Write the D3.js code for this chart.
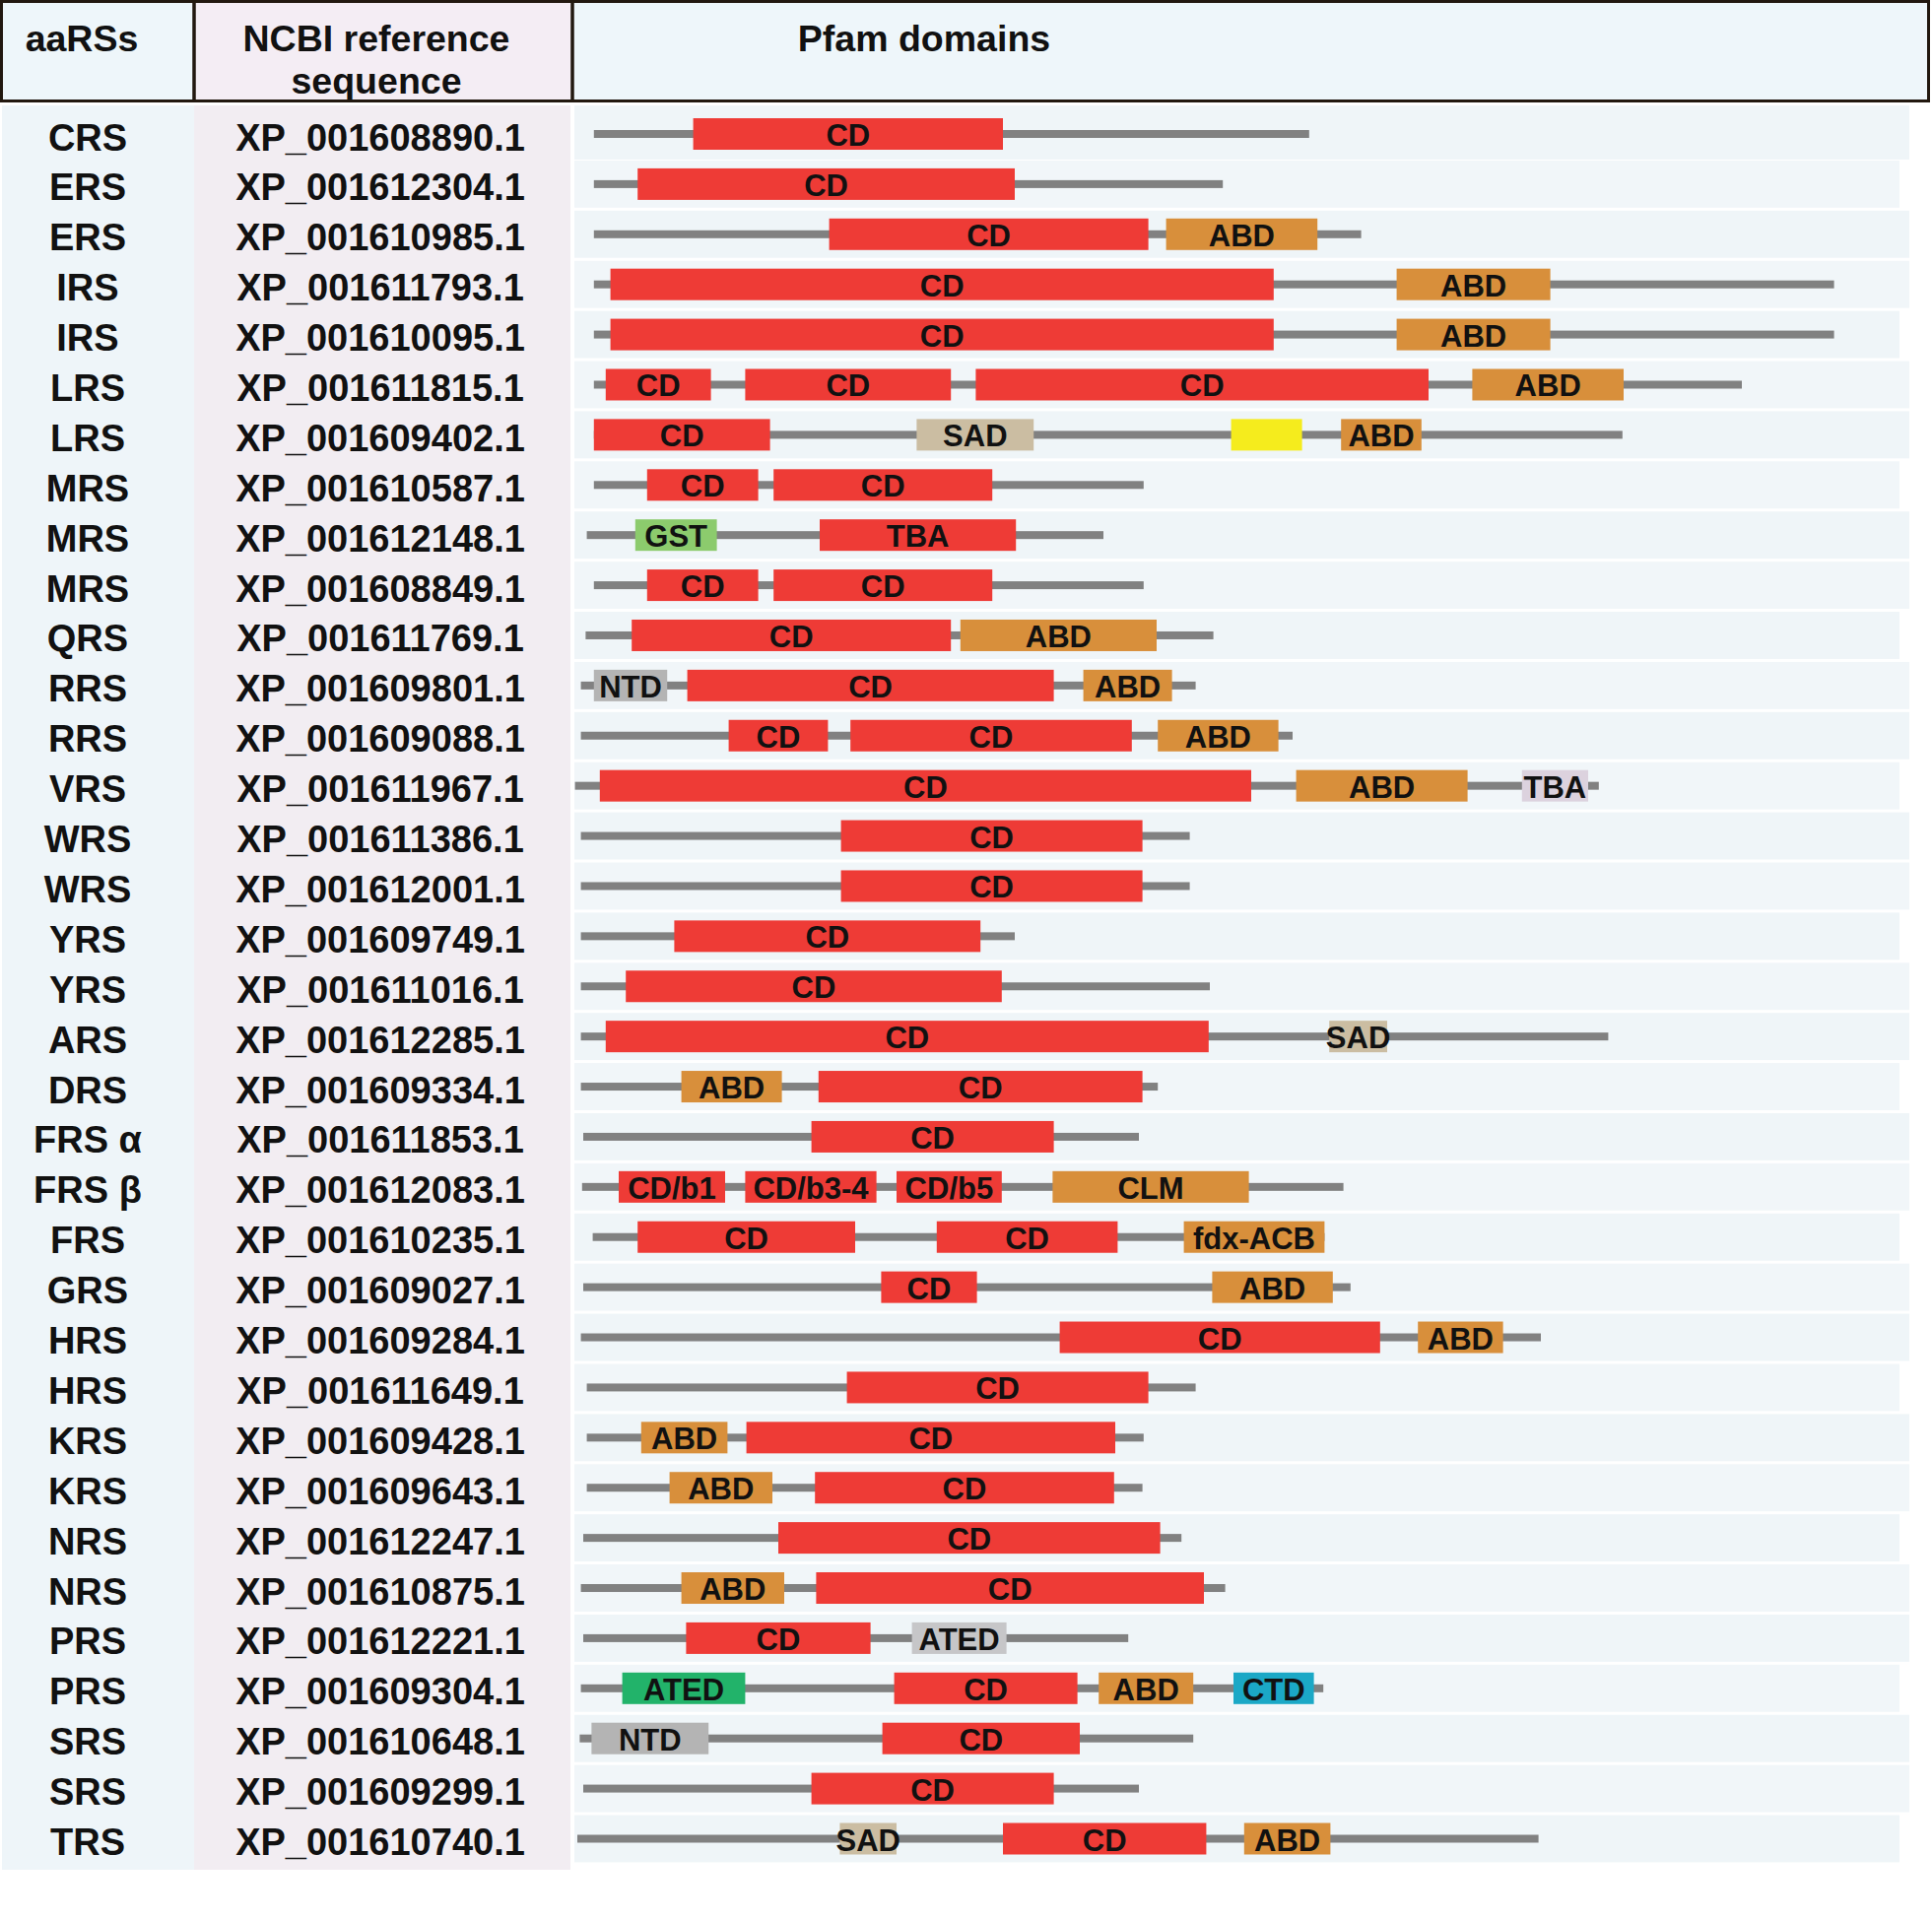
<!DOCTYPE html>
<html><head><meta charset="utf-8">
<script src="https://cdn.jsdelivr.net/npm/d3@7"></script>
<style>body{margin:0;background:#fff}</style>
</head><body>
<svg id="c" width="1961" height="1949"></svg>
<script>
// ---- data ----
const aaRSs = ["CRS","ERS","ERS","IRS","IRS","LRS","LRS","MRS","MRS","MRS","QRS","RRS","RRS","VRS","WRS","WRS","YRS","YRS","ARS","DRS","FRS α","FRS β","FRS","GRS","HRS","HRS","KRS","KRS","NRS","NRS","PRS","PRS","SRS","SRS","TRS"];
const accessions = ["XP_001608890.1","XP_001612304.1","XP_001610985.1","XP_001611793.1","XP_001610095.1","XP_001611815.1","XP_001609402.1","XP_001610587.1","XP_001612148.1","XP_001608849.1","XP_001611769.1","XP_001609801.1","XP_001609088.1","XP_001611967.1","XP_001611386.1","XP_001612001.1","XP_001609749.1","XP_001611016.1","XP_001612285.1","XP_001609334.1","XP_001611853.1","XP_001612083.1","XP_001610235.1","XP_001609027.1","XP_001609284.1","XP_001611649.1","XP_001609428.1","XP_001609643.1","XP_001612247.1","XP_001610875.1","XP_001612221.1","XP_001609304.1","XP_001610648.1","XP_001609299.1","XP_001610740.1"];
const chainStart = [19,19,19,19,19,19,19,19,13,19,12,8,8,3,8,8,8,8,8,8,10,9,18,10,8,13,13,13,10,8,10,8,7,10,5];
const chainEnd   = [624,551,668,1068,1068,990,889,484,450,484,543,528,610,869,523,523,375,540,877,496,480,653,637,659,820,528,484,483,516,553,471,636,526,480,818];
const domainClasses = ["catalytic","anticodon","SAD","NTD","ATED-grey","TBA-lilac","GST","ATED-green","CTD","unnamed"];
// [row, class, label, start, end]
const domains = [
 [0,"catalytic","CD",103,365],
 [1,"catalytic","CD",56,375],
 [2,"catalytic","CD",218,488],[2,"anticodon","ABD",503,631],
 [3,"catalytic","CD",33,594],[3,"anticodon","ABD",698,828],
 [4,"catalytic","CD",33,594],[4,"anticodon","ABD",698,828],
 [5,"catalytic","CD",29,118],[5,"catalytic","CD",147,321],[5,"catalytic","CD",342,725],[5,"anticodon","ABD",762,890],
 [6,"catalytic","CD",19,168],[6,"SAD","SAD",292,391],[6,"unnamed","",558,618],[6,"anticodon","ABD",651,719],
 [7,"catalytic","CD",64,158],[7,"catalytic","CD",171,356],
 [8,"GST","GST",54,123],[8,"catalytic","TBA",210,376],
 [9,"catalytic","CD",64,158],[9,"catalytic","CD",171,356],
 [10,"catalytic","CD",51,321],[10,"anticodon","ABD",329,495],
 [11,"NTD","NTD",19,81],[11,"catalytic","CD",98,408],[11,"anticodon","ABD",433,508],
 [12,"catalytic","CD",133,217],[12,"catalytic","CD",236,474],[12,"anticodon","ABD",496,598],
 [13,"catalytic","CD",24,575],[13,"anticodon","ABD",613,758],[13,"TBA-lilac","TBA",804,860],
 [14,"catalytic","CD",228,483],
 [15,"catalytic","CD",228,483],
 [16,"catalytic","CD",87,346],
 [17,"catalytic","CD",46,364],
 [18,"catalytic","CD",29,539],[18,"SAD","SAD",641,690],
 [19,"anticodon","ABD",93,178],[19,"catalytic","CD",209,483],
 [20,"catalytic","CD",203,408],
 [21,"catalytic","CD/b1",40,130],[21,"catalytic","CD/b3-4",147,258],[21,"catalytic","CD/b5",275,364],[21,"anticodon","CLM",407,573],
 [22,"catalytic","CD",56,240],[22,"catalytic","CD",309,462],[22,"anticodon","fdx-ACB",518,637],
 [23,"catalytic","CD",262,343],[23,"anticodon","ABD",542,644],
 [24,"catalytic","CD",413,684],[24,"anticodon","ABD",716,788],
 [25,"catalytic","CD",233,488],
 [26,"anticodon","ABD",59,132],[26,"catalytic","CD",148,460],
 [27,"anticodon","ABD",83,170],[27,"catalytic","CD",206,459],
 [28,"catalytic","CD",175,498],
 [29,"anticodon","ABD",93,180],[29,"catalytic","CD",207,535],
 [30,"catalytic","CD",97,253],[30,"ATED-grey","ATED",288,368],
 [31,"ATED-green","ATED",43,147],[31,"catalytic","CD",273,428],[31,"anticodon","ABD",446,526],[31,"CTD","CTD",560,628],
 [32,"NTD","NTD",17,116],[32,"catalytic","CD",263,430],
 [33,"catalytic","CD",203,408],
 [34,"SAD","SAD",227,275],[34,"catalytic","CD",365,537],[34,"anticodon","ABD",569,642]
];
const headers = ["aaRSs","NCBI reference","sequence","Pfam domains"];

// ---- drawing ----
const svg = d3.select("#c");
const col1 = [0,197], col2 = [197,581], col3 = [581,1959];
const x = d3.scaleLinear().domain([0,1000]).range([580,1780]);
const y = d3.scalePoint().domain(d3.range(aaRSs.length)).range([138.5,1869]);
const color = d3.scaleOrdinal().domain(domainClasses)
  .range(["#ee3b36","#d88f3b","#cbbda2","#b4b4b4","#c6c6c8","#dcd2de","#8ccb6d","#22b36a","#1ba8c6","#f5ec1d"]);
const font = "'Liberation Sans', Arial, sans-serif";

// header
const hdr = svg.append("g");
hdr.append("rect").attr("x",col1[0]).attr("y",0).attr("width",col1[1]-col1[0]).attr("height",103).attr("fill","#eef6fa");
hdr.append("rect").attr("x",col2[0]).attr("y",0).attr("width",col2[1]-col2[0]).attr("height",103).attr("fill","#f4edf4");
hdr.append("rect").attr("x",col3[0]).attr("y",0).attr("width",col3[1]-col3[0]).attr("height",103).attr("fill","#eef6fa");
const bc = "#22180f";
hdr.selectAll("text").data([
  {t:headers[0], cx:83, by:52},
  {t:headers[1], cx:382, by:52},
  {t:headers[2], cx:382, by:95},
  {t:headers[3], cx:938, by:52}
]).join("text").attr("x",d=>d.cx).attr("y",d=>d.by).attr("text-anchor","middle")
  .attr("font-family",font).attr("font-weight","bold").attr("font-size",37.5).attr("fill","#111").text(d=>d.t);
hdr.append("rect").attr("x",1.5).attr("y",1.5).attr("width",1956).attr("height",101).attr("fill","none").attr("stroke",bc).attr("stroke-width",3);
[col2[0], col3[0]].forEach(v=>hdr.append("line").attr("x1",v).attr("x2",v).attr("y1",0).attr("y2",103).attr("stroke",bc).attr("stroke-width",3.5));

// body backgrounds
const bodyTop = 107, bodyBot = 1898;
svg.append("rect").attr("x",2).attr("y",bodyTop).attr("width",col1[1]-2).attr("height",bodyBot-bodyTop).attr("fill","#eef5f9");
svg.append("rect").attr("x",col2[0]).attr("y",bodyTop).attr("width",col2[1]-col2[0]-2).attr("height",bodyBot-bodyTop).attr("fill","#f2edf2");
const step = y.step();
svg.append("g").selectAll("rect").data(d3.range(aaRSs.length)).join("rect")
  .attr("x",col3[0]+2).attr("y",i=>i===0?bodyTop:y(i)-step/2-1)
  .attr("width",i=>i%3===1?1345:1355)
  .attr("height",i=>i===0?y(0)+step/2-bodyTop-2:step-3)
  .attr("fill",i=>i%2?"#f1f6f9":"#eff5f8");

// row labels
svg.append("g").selectAll("text").data(aaRSs).join("text")
  .attr("x",89).attr("y",(d,i)=>y(i)+14).attr("text-anchor","middle")
  .attr("font-family",font).attr("font-weight","bold").attr("font-size",38).attr("fill","#111").text(d=>d);
svg.append("g").selectAll("text").data(accessions).join("text")
  .attr("x",386).attr("y",(d,i)=>y(i)+14).attr("text-anchor","middle")
  .attr("font-family",font).attr("font-weight","bold").attr("font-size",38).attr("fill","#111").text(d=>d);

// backbones
const rowC = i => y(i) - 2.5;
svg.append("g").selectAll("rect").data(d3.range(aaRSs.length)).join("rect")
  .attr("x",i=>x(chainStart[i])).attr("width",i=>x(chainEnd[i])-x(chainStart[i]))
  .attr("y",i=>rowC(i)-4).attr("height",8).attr("fill","#818181");

// domains
const dg = svg.append("g").selectAll("g").data(domains).join("g");
dg.append("rect").attr("x",d=>x(d[3])).attr("width",d=>x(d[4])-x(d[3]))
  .attr("y",d=>rowC(d[0])-16).attr("height",32).attr("fill",d=>color(d[1]));
dg.append("text").attr("x",d=>(x(d[3])+x(d[4]))/2).attr("y",d=>rowC(d[0])+12)
  .attr("text-anchor","middle").attr("font-family",font).attr("font-weight","bold")
  .attr("font-size",31).attr("fill","#111").text(d=>d[2]);
</script>
</body></html>
